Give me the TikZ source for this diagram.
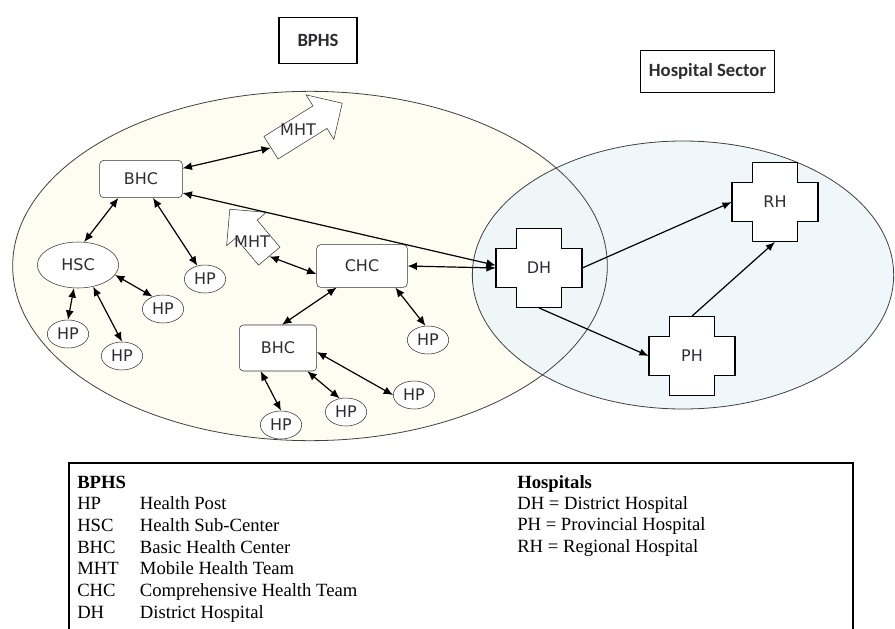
\documentclass[tikz,border=0pt]{standalone}
\usepackage{fontspec}
\setmainfont{Liberation Serif}
\newfontfamily\dvsans{DejaVu Sans}
\newfontfamily\cbri{Carlito}
\usetikzlibrary{shapes.geometric,shapes.arrows,arrows.meta}

\definecolor{bphsfill}{RGB}{253,253,242}
\definecolor{hospfill}{RGB}{236,245,250}
\definecolor{lbl}{RGB}{45,45,50}

%% plus-shaped outline of a hospital, drawn round a coordinate
\newcommand{\hospcross}[1]{%
  \draw[fill=white, line width=0.8pt, shift={(#1)}]
    (-16.75pt,29.75pt) -- (16.75pt,29.75pt) -- (16.75pt,14.75pt) -- (32.25pt,14.75pt)
    -- (32.25pt,-14.75pt) -- (16.75pt,-14.75pt) -- (16.75pt,-29.75pt) -- (-16.75pt,-29.75pt)
    -- (-16.75pt,-14.75pt) -- (-32.25pt,-14.75pt) -- (-32.25pt,14.75pt) -- (-16.75pt,14.75pt)
    -- cycle;}

\tikzset{
  box/.style={draw=black!80, fill=white, rounded corners=3pt, inner sep=0,
    font={\dvsans\fontsize{12pt}{14pt}\selectfont}, text=lbl},
  hp/.style={ellipse, draw=black!80, fill=white, inner sep=0,
    minimum width=31pt, minimum height=21pt,
    font={\dvsans\fontsize{12pt}{14pt}\selectfont}, text=lbl},
  hosp/.style={rectangle, inner sep=0, minimum width=64.5pt, minimum height=59.5pt,
    font={\dvsans\fontsize{12pt}{14pt}\selectfont}, text=lbl},
  mht/.style={single arrow, draw=black!80, fill=white, inner sep=0},
  mhttext/.style={font={\dvsans\fontsize{12pt}{14pt}\selectfont}, text=lbl, inner sep=0},
  title/.style={draw, line width=0.8pt, fill=white, inner sep=0,
    font={\cbri\bfseries\fontsize{14pt}{16pt}\selectfont}, text=lbl},
  dbl/.style={{Latex[length=7pt,width=6pt]}-{Latex[length=7pt,width=6pt]}, line width=0.9pt},
  one/.style={-{Latex[length=7pt,width=5.5pt]}, line width=0.9pt}
}

\begin{document}
\begin{tikzpicture}[x=0.75pt, y=-0.75pt]
\useasboundingbox (0,0) rectangle (895,628);

%% sectors
\fill[bphsfill] (310,266) ellipse [x radius=223pt, y radius=131pt];
\fill[hospfill, fill opacity=0.8] (683,275) ellipse [x radius=158pt, y radius=100.5pt];
\draw[line width=0.6pt, black!75] (310,266) ellipse [x radius=223pt, y radius=131pt];
\draw[line width=0.6pt, black!75] (683,275) ellipse [x radius=158pt, y radius=100.5pt];

%% titles
\node[title, minimum width=58.5pt, minimum height=35pt] (bphs) at (318,40.5) {BPHS};
\node[title, minimum width=101pt, minimum height=32pt] (hsector) at (707.5,71.5) {Hospital Sector};

%% bphs facilities
\node[box, minimum width=62pt, minimum height=28pt] (bhca) at (141,179) {BHC};
\node[box, minimum width=68pt, minimum height=32pt] (chc) at (362,266) {CHC};
\node[box, minimum width=58pt, minimum height=34.5pt] (bhcb) at (278,348) {BHC};
\node[hp, minimum width=61pt, minimum height=34.5pt] (hsc) at (78,265) {HSC};

\node[hp] (hpa) at (205,279) {HP};   %% bhc top
\node[hp] (hpb) at (163,309) {HP};   %% hsc
\node[hp] (hpc) at (68,334) {HP};    %% hsc
\node[hp] (hpd) at (122,356) {HP};   %% hsc
\node[hp] (hpe) at (428,340) {HP};   %% chc
\node[hp] (hpf) at (414,395) {HP};   %% bhc bottom
\node[hp] (hpg) at (346,412) {HP};   %% bhc bottom
\node[hp] (hph) at (281,425) {HP};   %% bhc bottom

%% mobile teams
\node[mht, rotate=32, minimum height=63pt, single arrow head extend=9.75pt]
  (mhta) at (301,129) {\rule{0pt}{19.5pt}};
\node[mhttext] (mhtatext) at (298,130) {MHT};
\node[mht, rotate=130, minimum height=46pt, single arrow head extend=9pt]
  (mhtb) at (254,238) {\rule{0pt}{20.5pt}};
\node[mhttext] (mhtbtext) at (252,242) {MHT};

%% hospitals
\coordinate (dhc) at (539,268);
\coordinate (rhc) at (775,202);
\coordinate (phc) at (692,356);
\hospcross{dhc}
\hospcross{rhc}
\hospcross{phc}
\node[hosp] (dh) at (dhc) {DH};
\node[hosp] (rh) at (rhc) {RH};
\node[hosp] (ph) at (phc) {PH};

%%% edges
\draw[dbl] ([yshift=8pt]bhca.east) -- (mhta.tail);
\draw[dbl] ([yshift=-10.5pt]bhca.east) -- ([yshift=2pt]dh.west);
\draw[dbl] ([xshift=-17pt]bhca.south) -- (hsc.75);
\draw[dbl] ([xshift=9pt]bhca.south) -- (hpa.120);
\draw[dbl] (hsc.-15) -- (hpb.130);
\draw[dbl] (hsc.-100) -- (hpc.north);
\draw[dbl] (hsc.-55) -- (hpd.north);
\draw[dbl] (mhtb.tail) -- ([yshift=-6pt]chc.west);
\draw[dbl] ([xshift=-19pt]chc.south) -- ([xshift=3pt]bhcb.north);
\draw[dbl] ([xshift=25pt]chc.south) -- (hpe.100);
\draw[dbl] (chc.east) -- (dh.west);
\draw[dbl] ([yshift=-3pt]bhcb.east) -- (hpf.west);
\draw[dbl] ([xshift=22pt]bhcb.south) -- (hpg.115);
\draw[dbl] ([xshift=-13pt]bhcb.south) -- (hph.north);
\draw[one] (dh.east) -- (rh.west);
\draw[one] (dh.south) -- (ph.west);
\draw[one] (ph.north) -- (rh.south);

%% legend
\draw[line width=0.8pt] (69,463) rectangle (853,632);
\node[anchor=base west, inner sep=0] (legbphs) at (77,488)
  {\fontsize{14pt}{16.3pt}\selectfont
   \begin{tabular}[t]{@{}p{47pt}@{}l@{}}
   \textbf{BPHS} & \\
   HP  & Health Post\\
   HSC & Health Sub-Center\\
   BHC & Basic Health Center\\
   MHT & Mobile Health Team\\
   CHC & Comprehensive Health Team\\
   DH  & District Hospital
   \end{tabular}};
\node[anchor=base west, inner sep=0] (leghosp) at (517,488)
  {\fontsize{14pt}{16pt}\selectfont
   \begin{tabular}[t]{@{}l@{}}
   \textbf{Hospitals}\\
   DH = District Hospital\\
   PH = Provincial Hospital\\
   RH = Regional Hospital
   \end{tabular}};
\end{tikzpicture}
\end{document}
